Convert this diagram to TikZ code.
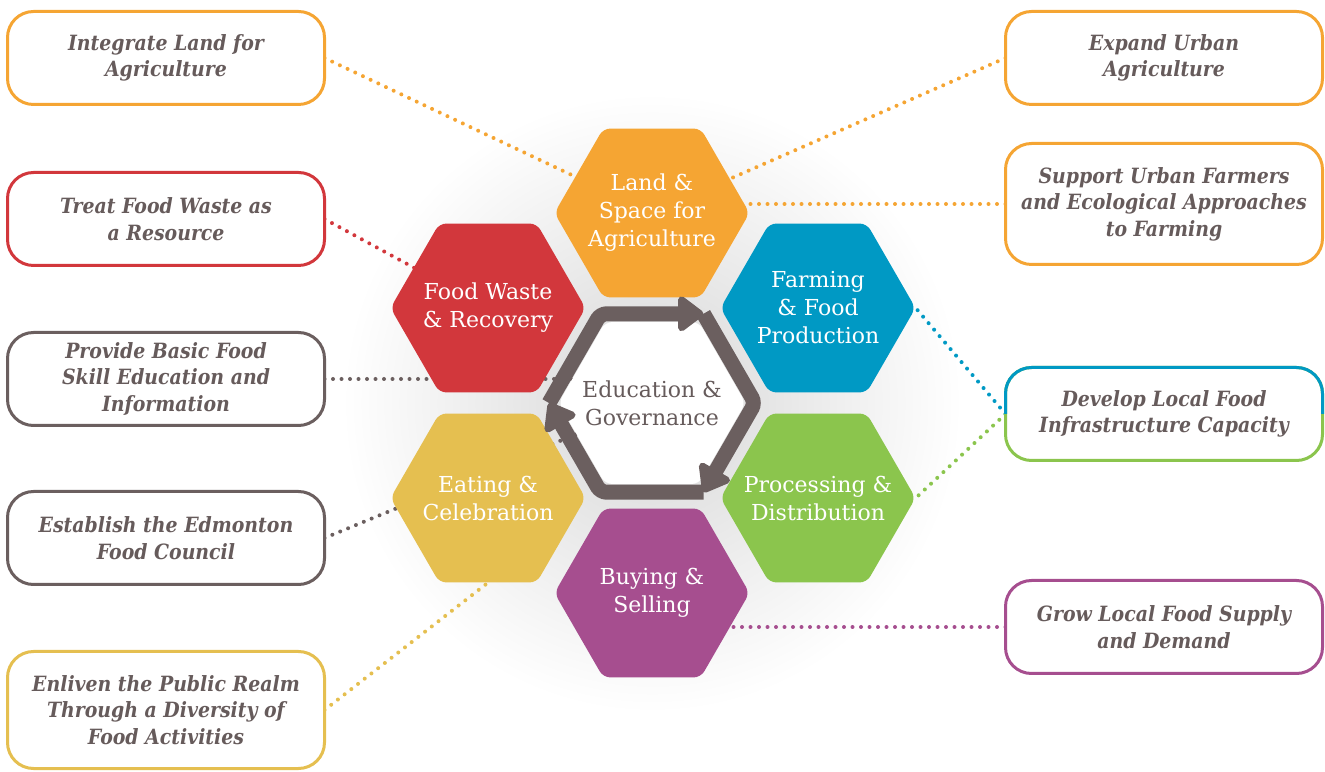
\documentclass[tikz,border=0pt]{standalone}
\usepackage{fontspec}
\setmainfont{DejaVu Serif}
\newfontfamily\boxfamily{DejaVu Serif Condensed}
\usetikzlibrary{shapes.geometric, arrows.meta}
\pgfdeclarelayer{bg}
\pgfsetlayers{bg,main}

\definecolor{landorange}{HTML}{F5A533}
\definecolor{wastered}{HTML}{D2373C}
\definecolor{farmblue}{HTML}{0099C4}
\definecolor{procgreen}{HTML}{8BC54D}
\definecolor{buypurple}{HTML}{A64E8F}
\definecolor{eatyellow}{HTML}{E5BF50}
\definecolor{edugray}{HTML}{6B5F5F}
\definecolor{txtgray}{HTML}{665B5B}

\begin{document}
\begin{tikzpicture}[x=1pt, y=1pt,
   hexa/.style={regular polygon, regular polygon sides=6, minimum size=195pt, inner sep=0pt,
      rounded corners=7pt, fill=#1},
   hextext/.style={text=white, align=center, font=\fontsize{22}{28}\selectfont},
   goal/.style={rectangle, rounded corners=26pt, draw=#1, line width=3pt, fill=white,
      minimum width=317pt, minimum height=93pt, inner sep=0pt, outer sep=0pt, text=txtgray,
      align=center, font=\boxfamily\bfseries\itshape\fontsize{21}{26.5}\selectfont},
   link/.style={draw=#1, line width=4pt, line cap=round, dash pattern=on 0pt off 8.5pt},
   turn/.style={draw=edugray, line width=15pt, rounded corners=6pt,
      -{Triangle[width=40pt, length=28pt, round=false]}}]
   \useasboundingbox (0,0) rectangle (1325,771);

   % the six fields round the middle
   \node[hexa=landorange, label={[hextext]center:Land \&\\Space for\\Agriculture}] (land) at (652,558) {};
   \node[hexa=farmblue, label={[hextext]center:Farming\\\& Food\\Production}] (farm) at (818,463) {};
   \node[hexa=procgreen, label={[hextext]center:Processing \&\\Distribution}] (proc) at (818,273) {};
   \node[hexa=buypurple, label={[hextext]center:Buying \&\\Selling}] (buy) at (652,178) {};
   \node[hexa=eatyellow, label={[hextext]center:Eating \&\\Celebration}] (eat) at (488,273) {};
   \node[hexa=wastered, label={[hextext]center:Food Waste\\\& Recovery}] (waste) at (488,463) {};

   % middle with its turning arrows
   \node[hexa=white, minimum size=187pt,
      label={[hextext, text=txtgray]center:Education \&\\Governance}] (edu) at (652,368) {};
   \begin{scope}[shift={(652,368)}]
      \draw[turn] (180:103) -- (120:103) -- (60:103);
      \draw[turn] (60:103) -- (0:103) -- (-60:103);
      \draw[turn] (-60:103) -- (-120:103) -- (-180:103);
   \end{scope}

   % goals, left
   \node[goal=landorange] (integ) at (166,713) {Integrate Land for\\Agriculture};
   \node[goal=wastered] (treat) at (166,552) {Treat Food Waste as\\a Resource};
   \node[goal=edugray] (prov) at (166,392) {Provide Basic Food\\Skill Education and\\Information};
   \node[goal=edugray] (est) at (166,233) {Establish the Edmonton\\Food Council};
   \node[goal=eatyellow, minimum height=117pt] (enl) at (166,61) {Enliven the Public Realm\\Through a Diversity of\\Food Activities};

   % goals, right
   \node[goal=landorange] (expand) at (1164,713) {Expand Urban\\Agriculture};
   \node[goal=landorange, minimum height=121pt] (farmers) at (1164,567) {Support Urban Farmers\\and Ecological Approaches\\to Farming};
   \node[goal=procgreen] (infra) at (1164,357) {Develop Local Food\\Infrastructure Capacity};
   \node[goal=buypurple] (supply) at (1164,144) {Grow Local Food Supply\\and Demand};
   \begin{scope}
      \clip ([xshift=-5pt]infra.west) rectangle ([shift={(5pt,5pt)}]infra.north east);
      \draw[farmblue, line width=3pt, rounded corners=26pt] (infra.south west) rectangle (infra.north east);
   \end{scope}

   \begin{pgfonlayer}{bg}
      \shade[inner color=black!16, outer color=white] (652,368) circle (310);
      \draw[link=landorange] (integ.east) -- (land.center);
      \draw[link=landorange] (expand.west) -- (land.center);
      \draw[link=landorange] (farmers.west) -- (farmers.west -| land.center);
      \draw[link=wastered] (treat.east) -- (waste.center);
      \draw[link=edugray] (prov.east) -- (prov.east -| edu.center);
      \draw[link=edugray] (est.east) -- (edu.center);
      \draw[link=eatyellow] (enl.east) -- (eat.south);
      \draw[link=farmblue] (infra.west) -- (farm.east);
      \draw[link=procgreen] (infra.west) -- (proc.east);
      \draw[link=buypurple] (supply.west) -- (supply.west -| buy.center);
   \end{pgfonlayer}
\end{tikzpicture}
\end{document}
